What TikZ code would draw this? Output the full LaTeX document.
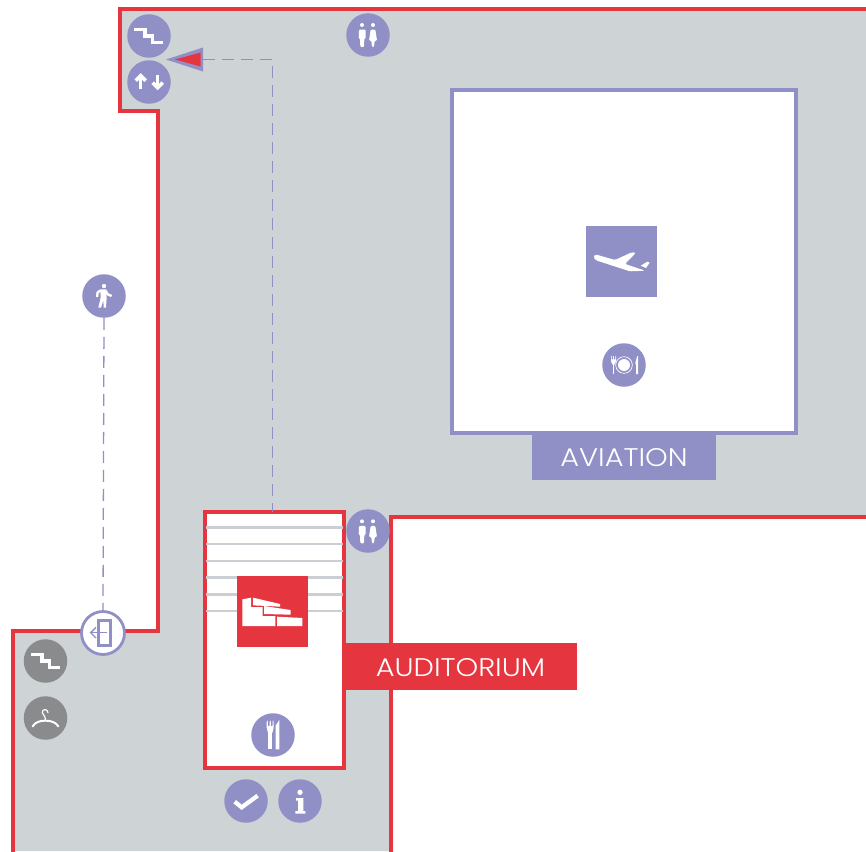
\documentclass[tikz,border=0pt]{standalone}
\usepackage{fontspec}
\newfontfamily\labfont{Poppins}[UprightFont=* Light,FakeStretch=1.13]
\definecolor{pur}{HTML}{9090C6}
\definecolor{rd}{HTML}{E5353F}
\definecolor{flr}{HTML}{CED3D5}
\definecolor{dk}{HTML}{8A8B8D}
\definecolor{rowline}{HTML}{CBCFD3}
\tikzset{
  x=1pt,y=-1pt,
  icon/.style={circle,fill=pur,minimum size=43.5pt,inner sep=0pt,outer sep=0pt},
  darkicon/.style={circle,fill=dk,minimum size=43.5pt,inner sep=0pt,outer sep=0pt},
  wall/.style={draw=rd,line width=3.05pt,miter limit=10},
  route/.style={draw=pur,line width=1.3pt,dash pattern=on 12pt off 7pt},
  tag/.style={inner sep=0pt,outer sep=0pt,text=white,font=\labfont\fontsize{25.5}{28}\selectfont},
  whiteline/.style={draw=white,line width=3.2pt,line cap=butt,line join=miter},
  zf/.style={x=0.33333pt,y=-0.33333pt},
}
\newcommand{\stairicon}[2]{\draw[whiteline,shift={(#1,#2)}] (-15,-6.7)--(-4,-6.7)--(-4,0)--(3.7,0)--(3.7,6.7)--(14.3,6.7);}
\newcommand{\wcicon}[2]{\begin{scope}[shift={(#1,#2)},zf]
  \fill[white] (756,75) circle[radius=6];
  \fill[white] (789,75) circle[radius=6];
  \fill[white,rounded corners=1pt] (747,89)--(767,89)--(767,115)--(763,115)--(762,141)--(751,141)--(750,115)--(746,115)--cycle;
  \fill[white,rounded corners=1pt] (782,89)--(796,89)--(801,122)--(794,122)--(792,141)--(786,141)--(784,122)--(777,122)--cycle;
\end{scope}}
\begin{document}
\begin{tikzpicture}
\useasboundingbox (0,0) rectangle (866,851);
\clip (0,0) rectangle (866,851);
\fill[white] (0,0) rectangle (866,851);
% floor
\fill[flr] (120,9)--(866,9)--(866,517)--(391,517)--(391,851)--(13,851)--(13,631)--(158,631)--(158,111)--(120,111)--cycle;
\draw[wall] (13,855)--(13,631)--(158,631)--(158,111)--(120,111)--(120,9)--(870,9);
\draw[wall] (870,517)--(391,517)--(391,855);
% rooms
\node[draw=pur,line width=3.05pt,fill=white,minimum width=344pt,minimum height=343pt,inner sep=0pt,outer sep=0pt] (avroom) at (624,261.5) {};
\node[draw=rd,line width=3.05pt,fill=white,minimum width=139pt,minimum height=256pt,inner sep=0pt,outer sep=0pt] (audroom) at (274.5,640) {};
\foreach \yy in {527.3,544,561,577.7,594.3,611}
  \draw[draw=rowline,line width=2.8pt] (206,\yy)--(343,\yy);
% routes
\coordinate (routestart) at (203,59.5);
\coordinate (routeturn) at (272.5,59.5);
\draw[route] (routestart)--(routeturn)--(routeturn|-audroom.north);
% tags
\node[fill=pur,minimum width=184pt,minimum height=46pt,inner sep=0pt,outer sep=0pt] (avtag) at (624,457) {};
\node[tag] (avtext) at (624,458) {AVIATION};
\node[fill=rd,minimum width=233pt,minimum height=47pt,inner sep=0pt,outer sep=0pt] (audtag) at (460.5,666.5) {};
\node[tag] (audtext) at (460.5,667.5) {AUDITORIUM};
% plane
\node[fill=pur,minimum size=71pt,inner sep=0pt,outer sep=0pt] (plane) at (621.5,261.5) {};
\begin{scope}[shift={(520,210)},zf]
\fill[white,rounded corners=1.5pt] (226,133)--(285,150)--(335,127)--(348,128)--(315,162)--(375,182)--(330,184)--(228,151)--(220,142)--cycle;
\fill[white] (362,167)--(382,155)--(389,158)--(378,174)--cycle;
\end{scope}
% auditorium square
\node[fill=rd,minimum size=71pt,inner sep=0pt,outer sep=0pt] (audsq) at (272.5,611.5) {};
\begin{scope}[shift={(195,500)},zf]
\fill[white] (142,298)--(168,293)--(168,321)--(203,321)--(203,348)--(241,348)--(241,378)--(142,378)--cycle;
\fill[white] (174,293)--(255,312)--(255,320)--(174,316)--cycle;
\fill[white] (207,318)--(287,330)--(287,344)--(207,342)--cycle;
\fill[white] (246,350)--(322,354)--(322,378)--(246,378)--cycle;
\end{scope}
% top left icons
\node[icon] (stairtop) at (149,36) {};
\stairicon{149}{36}
\node[icon] (lift) at (149,82) {};
\begin{scope}[shift={(110,0)},zf]
\draw[white,line width=3.6pt] (92,266)--(92,232);
\draw[white,line width=3.6pt] (77,242)--(92,227)--(107,242);
\draw[white,line width=3.6pt] (143,224)--(143,258);
\draw[white,line width=3.6pt] (128,248)--(143,263)--(158,248);
\end{scope}
% marker
\node[inner sep=0pt] (marker) at (185,59.5) {};
\fill[pur] (166,59.5)--(203,47.5)--(203,71.5)--cycle;
\fill[rd] (175,59.5)--(200.7,52.5)--(200.7,66.5)--cycle;
% washrooms
\node[icon] (wctop) at (368,35) {};
\wcicon{110}{0}
\node[icon] (wcaud) at (368,531) {};
\wcicon{110}{496.3}
% plate
\node[icon] (plate) at (624,365) {};
\begin{scope}[shift={(520,210)},zf]
\draw[white,line width=.7pt] (312,465) circle[radius=25];
\fill[white] (312,465) circle[radius=18];
\fill[white] (278,465)--(283,465)--(283,492)--(278,492)--cycle;
\fill[white,rounded corners=1pt] (273,438)--(275,438)--(275,450)--(279.5,450)--(279.5,438)--(281.5,438)--(281.5,450)--(286,450)--(286,438)--(288,438)--(288,455)--(282,466)--(279,466)--(273,455)--cycle;
\fill[white] (348,492)--(354,492)--(354,438)--(352,438)--(346,458)--(348,466)--cycle;
\end{scope}
% person
\node[icon] (walker) at (104,296) {};
\begin{scope}[shift={(70,265)},zf]
\fill[white] (102,63) circle[radius=6.5];
\draw[white,line width=2.4pt,line join=round] (106,76)--(113,88)--(125,93);
\draw[white,line width=2.4pt,line join=round] (92,76)--(83,82)--(81,96);
\fill[white] (91,73)--(108,73)--(110,98)--(108,128)--(101,128)--(100,105)--(93,128)--(85,128)--(92,98)--cycle;
\end{scope}
% exit
\node[circle,draw=pur,line width=2.8pt,fill=white,minimum size=43pt,inner sep=0pt,outer sep=0pt] (exitdoor) at (103,633) {};
\begin{scope}[shift={(0,600)},zf]
\draw[pur,line width=2.4pt] (295,62) rectangle (331,137);
\draw[pur,line width=1.3pt] (320,98)--(272,98);
\draw[pur,line width=1.3pt] (288,82)--(272,98)--(288,114);
\end{scope}
\draw[route] (walker.south)--(exitdoor.north);
% grey icons
\node[darkicon] (stairlow) at (45.5,661) {};
\stairicon{46}{661}
\node[darkicon] (hanger) at (45.5,718) {};
\begin{scope}[shift={(0,600)},zf]
\draw[white,line width=1.2pt,line cap=round] (144,338) .. controls (143,325) and (126,326) .. (127,338) .. controls (128,347) and (137,346) .. (136,360);
\draw[white,line width=2pt,line cap=round] (98,379) .. controls (106,366) and (120,362) .. (136,362) .. controls (152,362) and (167,366) .. (175,379);
\end{scope}
% fork knife
\node[icon] (cutlery) at (273,735) {};
\begin{scope}[shift={(210,700)},zf]
\fill[white] (175,100)--(186,100)--(186,148)--(175,148)--cycle;
\fill[white,rounded corners=1pt] (170,62)--(173.5,62)--(173.5,80)--(178.5,80)--(178.5,62)--(182.5,62)--(182.5,80)--(187.5,80)--(187.5,62)--(191,62)--(191,85)--(186,101)--(175,101)--(170,85)--cycle;
\fill[white] (197,148)--(208,148)--(208,60)--(197,76)--cycle;
\end{scope}
% check
\node[icon] (check) at (246,801) {};
\draw[white,line width=4.2pt,shift={(210,700)},zf] (74,305)--(95,322)--(143,287);
% info
\node[icon] (info) at (300,801) {};
\begin{scope}[shift={(210,700)},zf]
\fill[white] (270,277) circle[radius=8];
\fill[white] (258,294)--(280,294)--(280,333)--(286,333)--(286,341)--(256,341)--(256,333)--(264,333)--(264,302)--(258,302)--cycle;
\end{scope}
\end{tikzpicture}
\end{document}
